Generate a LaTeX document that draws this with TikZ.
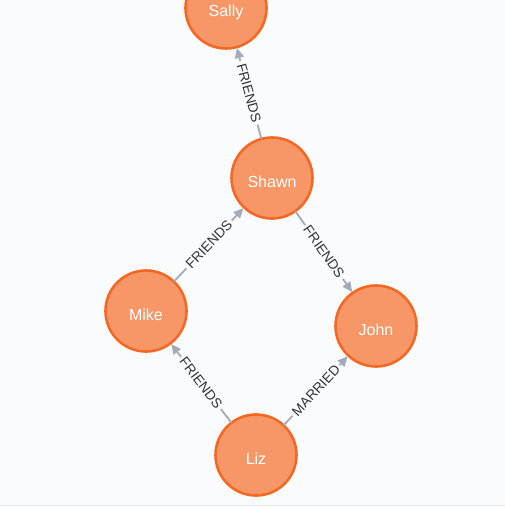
\documentclass[tikz,border=0pt]{standalone}
\usepackage{fontspec}
\setmainfont{Liberation Sans}
\usetikzlibrary{arrows.meta}
\definecolor{nodefill}{HTML}{F79767}
\definecolor{nodeline}{HTML}{F36924}
\definecolor{edgecol}{HTML}{A5ABB6}
\definecolor{bgcol}{HTML}{F9FBFD}
\definecolor{bordercol}{HTML}{E3E6EB}
\definecolor{labelcol}{HTML}{333333}
\tikzset{
  person/.style={circle, minimum size=81pt, inner sep=0pt, outer sep=0pt,
    fill=nodefill, draw=nodeline, line width=2.6pt, text=white,
    text height=18pt, text depth=0pt,
    font=\fontsize{16}{19}\selectfont},
  rel/.style={draw=edgecol, line width=1.8pt,
    -{Triangle[length=10pt,width=9pt]}, shorten >=1pt},
  rellabel/.style={sloped, midway, fill=bgcol, inner sep=2.5pt,
    text=labelcol, font=\fontsize{13.8}{16}\selectfont}
}
\begin{document}
\begin{tikzpicture}[x=1pt,y=-1pt]
\useasboundingbox (0,0) rectangle (505,508);
\clip (0,0) rectangle (505,508);
\fill[white] (0,0) rectangle (505,508);
\fill[bgcol] (0,0) rectangle (505,505);
\draw[bordercol, line width=1.2pt] (0,505.5) -- (505,505.5);
\node[person] (sally) at (226,8) {Sally};
\node[person] (shawn) at (272,178) {Shawn};
\node[person] (mike) at (146,311) {Mike};
\node[person] (john) at (376,326) {John};
\node[person] (liz) at (256,455) {Liz};
\draw[rel] (shawn) -- node[rellabel] {FRIENDS} (sally);
\draw[rel] (mike) -- node[rellabel] {FRIENDS} (shawn);
\draw[rel] (shawn) -- node[rellabel] {FRIENDS} (john);
\draw[rel] (liz) -- node[rellabel] {FRIENDS} (mike);
\draw[rel] (liz) -- node[rellabel] {MARRIED} (john);
\end{tikzpicture}
\end{document}
